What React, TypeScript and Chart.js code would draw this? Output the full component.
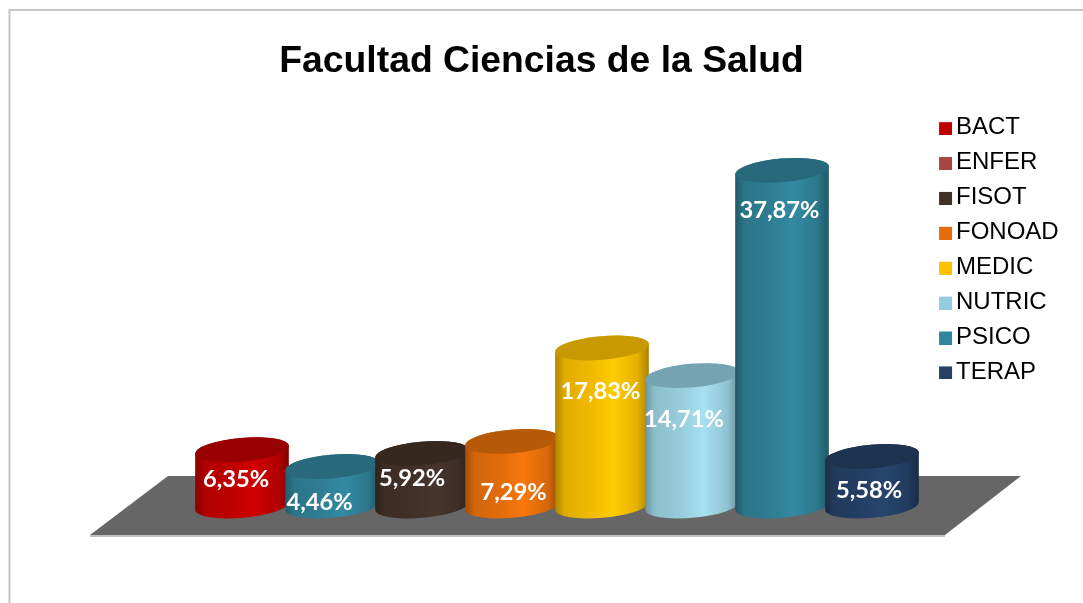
import React, { useEffect, useRef } from "react";
import { Chart, registerables } from "chart.js";

Chart.register(...registerables);

const categories = ["BACT", "ENFER", "FISOT", "FONOAD", "MEDIC", "NUTRIC", "PSICO", "TERAP"];
const shares = [6.35, 4.46, 5.92, 7.29, 17.83, 14.71, 37.87, 5.58];
const shareLabels = ["6,35%", "4,46%", "5,92%", "7,29%", "17,83%", "14,71%", "37,87%", "5,58%"];
const barColors = ["#C80000", "#31859C", "#44332A", "#EE730C", "#FFC400", "#A0D8E8", "#31859C", "#264269"];
const capColors = ["#980000", "#28697C", "#37281F", "#B65A08", "#C89A00", "#76A3B2", "#27697B", "#1E3350"];
const legendColors = ["#C00000", "#A84646", "#403027", "#E46C0A", "#FFC000", "#93CDDD", "#31859C", "#254061"];
const labelOffsets = [
  [-6, 29.5], [-12.5, 35.5], [-10, 24.5], [1.5, 51], [-1.5, 43], [-8, 43.5], [-2.5, 40.5], [-3, 33.5],
];

const tiltRad = (-5 * Math.PI) / 180;
const capRy = 11.8;

function shade(hex: string, f: number) {
  const n = parseInt(hex.slice(1), 16);
  const ch = (v: number) => Math.max(0, Math.min(255, Math.round(v * f)));
  return `rgb(${ch((n >> 16) & 255)},${ch((n >> 8) & 255)},${ch(n & 255)})`;
}

function legendSwatch(color: string) {
  const c = document.createElement("canvas");
  c.width = 20;
  c.height = 15;
  const g = c.getContext("2d")!;
  g.fillStyle = color;
  g.fillRect(5, 2, 13, 13);
  return c;
}

const cylinderPlugin = {
  id: "cylinders",
  afterLayout(chart: any) {
    const t = chart.titleBlock;
    t.left = 0;
    t.right = chart.width;
    t.width = chart.width;
    const l = chart.legend;
    l.left = 933.1;
    l.right = 1083;
    l.top = 104.7;
    l.bottom = 400;
  },
  beforeDraw(chart: any) {
    const { ctx, width, height } = chart;
    ctx.save();
    ctx.fillStyle = "#FFFFFF";
    ctx.fillRect(0, 0, width, height);
    ctx.strokeStyle = "#C6C6C6";
    ctx.lineWidth = 2;
    ctx.beginPath();
    ctx.moveTo(9.5, height);
    ctx.lineTo(9.5, 10);
    ctx.lineTo(width, 10);
    ctx.stroke();
    ctx.restore();
  },
  beforeDatasetsDraw(chart: any) {
    const { ctx, chartArea: a } = chart;
    // floor plane, tied to the plot area
    ctx.save();
    ctx.fillStyle = "#666666";
    ctx.beginPath();
    ctx.moveTo(a.left - 107, a.bottom + 29);
    ctx.lineTo(a.left - 29, a.bottom - 30);
    ctx.lineTo(a.right + 104, a.bottom - 30);
    ctx.lineTo(a.right + 28, a.bottom + 29);
    ctx.closePath();
    ctx.fill();
    ctx.strokeStyle = "#ABABAB";
    ctx.lineWidth = 1.5;
    ctx.beginPath();
    ctx.moveTo(a.left - 107, a.bottom + 30);
    ctx.lineTo(a.right + 28, a.bottom + 30);
    ctx.stroke();
    ctx.restore();
  },
  beforeDatasetDraw(chart: any, args: any) {
    const { ctx } = chart;
    const meta = args.meta;
    meta.data.forEach((el: any, i: number) => {
      const { x, y, base, width } = el.getProps(["x", "y", "base", "width"], true);
      const rx = width / 2;
      const color = el.options.backgroundColor as string;
      const dx = rx * Math.cos(tiltRad);
      const g = ctx.createLinearGradient(x - dx, 0, x + dx, 0);
      g.addColorStop(0, shade(color, 0.68));
      g.addColorStop(0.1, shade(color, 0.88));
      g.addColorStop(0.4, shade(color, 0.95));
      g.addColorStop(0.62, shade(color, 1.04));
      g.addColorStop(0.88, shade(color, 0.9));
      g.addColorStop(1, shade(color, 0.66));
      ctx.save();
      ctx.fillStyle = g;
      ctx.beginPath();
      ctx.ellipse(x, base, rx, capRy, tiltRad, 0, Math.PI, false);
      ctx.ellipse(x, y, rx, capRy, tiltRad, Math.PI, 0, false);
      ctx.closePath();
      ctx.fill();
      ctx.fillStyle = capColors[i];
      ctx.beginPath();
      ctx.ellipse(x, y, rx, capRy, tiltRad, 0, Math.PI * 2);
      ctx.fill();
      ctx.restore();
    });
    return false;
  },
  afterDatasetsDraw(chart: any) {
    const { ctx } = chart;
    const meta = chart.getDatasetMeta(0);
    ctx.save();
    ctx.font = "700 23.7px Lato";
    ctx.fillStyle = "#FFFFFF";
    ctx.textAlign = "center";
    ctx.textBaseline = "middle";
    meta.data.forEach((el: any, i: number) => {
      ctx.fillText(shareLabels[i], el.x + labelOffsets[i][0], el.y + labelOffsets[i][1]);
    });
    ctx.restore();
  },
};

export default function App() {
  const ref = useRef<HTMLCanvasElement>(null);
  useEffect(() => {
    const chart = new Chart(ref.current!, {
      type: "bar",
      data: {
        labels: categories,
        datasets: [
          {
            data: shares,
            backgroundColor: barColors,
            barPercentage: 94 / 90,
            categoryPercentage: 1,
          },
        ],
      },
      options: {
        responsive: false,
        animation: false,
        layout: { padding: { left: 197, right: 166, top: 0, bottom: 97 } },
        scales: {
          x: { display: false, offset: true },
          y: { display: false, min: 0, max: 40 },
        },
        plugins: {
          title: {
            display: true,
            text: "Facultad Ciencias de la Salud",
            color: "#000000",
            font: { family: "'Liberation Sans'", size: 37.3, weight: "bold", lineHeight: 1.2 },
            padding: { top: 39.4, bottom: 67.3 },
          },
          legend: {
            position: "chartArea",
            align: "start",
            labels: {
              color: "#000000",
              font: { family: "'Liberation Sans'", size: 24, lineHeight: 1.2 },
              padding: 10.9,
              usePointStyle: true,
              pointStyleWidth: 0.01,
              generateLabels: () =>
                categories.map((text, i) => ({
                  text,
                  fillStyle: legendColors[i],
                  strokeStyle: legendColors[i],
                  lineWidth: 0,
                  pointStyle: legendSwatch(legendColors[i]),
                  datasetIndex: 0,
                  index: i,
                })),
            },
          },
          tooltip: { enabled: false },
        },
      } as any,
      plugins: [cylinderPlugin],
    });
    return () => chart.destroy();
  }, []);
  return (
    <canvas
      ref={ref}
      width={1083}
      height={603}
      style={{ position: "fixed", left: 0, top: 0, display: "block", width: 1083, height: 603 }}
    />
  );
}
